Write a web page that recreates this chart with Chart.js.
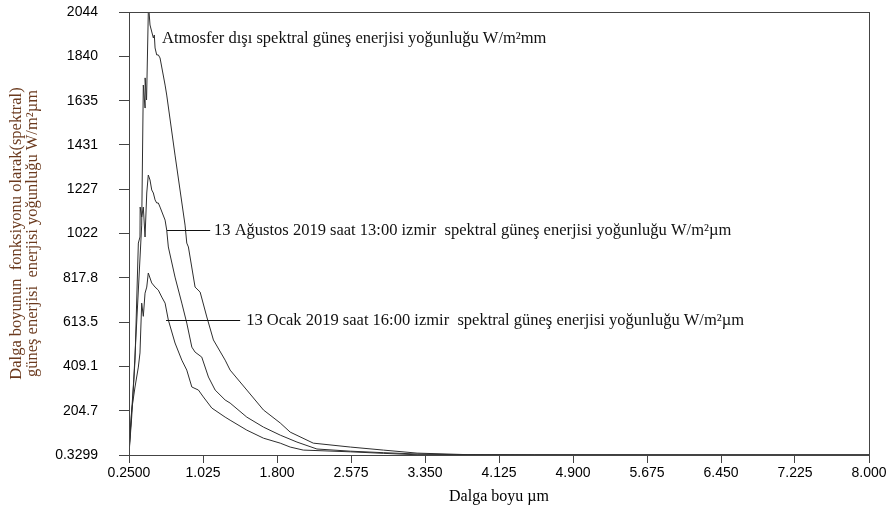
<!DOCTYPE html>
<html>
<head>
<meta charset="utf-8">
<script src="https://cdn.jsdelivr.net/npm/chart.js@4.4.1/dist/chart.umd.min.js"></script>
<style>
  html, body { margin: 0; padding: 0; background: #fff; }
  #wrap { width: 890px; height: 511px; }
</style>
</head>
<body>
<div id="wrap"><canvas id="spectrumChart"></canvas></div>
<script>
// Wavelength (µm) and spectral irradiance (W/m²µm) for each curve
const etrWave = [0.25, 0.30, 0.383, 0.40, 0.418, 0.419, 0.434, 0.452, 0.46, 0.47, 0.505, 0.515, 0.523, 0.54, 0.557, 0.575, 0.628, 0.645, 0.732, 0.837, 0.855, 0.872, 0.942, 0.995, 1.065, 1.134, 1.257, 1.309, 1.484, 1.658, 1.834, 1.938, 2.18, 2.568, 2.914, 3.267, 3.79, 4.5, 6.0, 8.0];
const etrValue = [10, 350, 1061, 1707, 1601, 1740, 1638, 2039, 2044, 1984, 1924, 1938, 1878, 1846, 1846, 1832, 1707, 1661, 1384, 1061, 978, 960, 775, 752, 637, 531, 438, 392, 300, 208, 148, 106, 55, 37, 23, 9, 2, 0.9, 0.5, 0.35];

const augWave = [0.25, 0.278, 0.313, 0.348, 0.365, 0.367, 0.383, 0.40, 0.418, 0.436, 0.452, 0.47, 0.488, 0.505, 0.523, 0.54, 0.557, 0.575, 0.628, 0.645, 0.662, 0.732, 0.803, 0.855, 0.908, 0.942, 1.012, 1.082, 1.152, 1.257, 1.309, 1.484, 1.658, 1.834, 2.009, 2.218, 2.568, 2.914, 3.267, 3.79, 4.5, 6.0, 8.0];
const augValue = [5, 175, 438, 978, 1006, 1144, 1098, 1144, 1006, 1209, 1292, 1269, 1223, 1209, 1177, 1163, 1163, 1144, 1084, 1038, 960, 821, 701, 609, 498, 475, 452, 360, 300, 254, 240, 175, 129, 92, 60, 28, 18, 11, 5, 1, 0.6, 0.4, 0.33];

const janWave = [0.25, 0.255, 0.278, 0.313, 0.348, 0.365, 0.383, 0.40, 0.418, 0.436, 0.452, 0.488, 0.523, 0.557, 0.593, 0.628, 0.662, 0.732, 0.803, 0.855, 0.908, 0.977, 1.029, 1.117, 1.257, 1.309, 1.484, 1.658, 1.834, 1.938, 2.075, 2.568, 2.914, 3.267, 4.0, 6.0, 8.0];
const janValue = [5, 55, 208, 314, 406, 471, 701, 640, 747, 775, 840, 794, 775, 761, 729, 701, 623, 517, 438, 392, 314, 300, 268, 217, 175, 161, 115, 78, 55, 37, 23, 15, 8, 1.4, 0.6, 0.4, 0.33];

// Axis ticks as printed
const xTickValues = [0.25, 1.025, 1.8, 2.575, 3.35, 4.125, 4.9, 5.675, 6.45, 7.225, 8.0];
const xTickLabels = ["0.2500", "1.025", "1.800", "2.575", "3.350", "4.125", "4.900", "5.675", "6.450", "7.225", "8.000"];
const yTickValues = [0.3299, 204.7, 409.1, 613.5, 817.8, 1022, 1227, 1431, 1635, 1840, 2044];
const yTickLabels = ["0.3299", "204.7", "409.1", "613.5", "817.8", "1022", "1227", "1431", "1635", "1840", "2044"];

const seriesNames = [
  "Atmosfer dışı spektral güneş enerjisi yoğunluğu W/m²mm",
  "13 Ağustos 2019 saat 13:00 izmir  spektral güneş enerjisi yoğunluğu W/m²µm",
  "13 Ocak 2019 saat 16:00 izmir  spektral güneş enerjisi yoğunluğu W/m²µm"
];

const toPoints = (xs, ys) => xs.map((x, i) => ({ x: x, y: ys[i] }));

function curve(label, xs, ys) {
  return {
    label: label,
    data: toPoints(xs, ys),
    showLine: true,
    borderColor: "#2e2e2e",
    borderWidth: 1,
    pointRadius: 0,
    tension: 0
  };
}

// frame around the plot plus the curve labels with their leader lines
const labelPlugin = {
  id: "curveLabels",
  afterDatasetsDraw(chart, args, opts) {
    const { ctx, chartArea, scales: { x, y } } = chart;
    ctx.save();
    ctx.strokeStyle = "#444";
    ctx.lineWidth = 1;
    ctx.strokeRect(chartArea.left + 0.5, chartArea.top + 0.5, chartArea.right - chartArea.left, chartArea.bottom - chartArea.top);

    ctx.font = "16.5px 'Liberation Serif', 'Times New Roman', serif";
    ctx.fillStyle = "#111";
    ctx.textBaseline = "middle";
    opts.items.forEach(item => {
      const yy = Math.round(y.getPixelForValue(item.y)) + 0.5;
      if (item.from !== undefined) {
        ctx.strokeStyle = "#111";
        ctx.beginPath();
        ctx.moveTo(x.getPixelForValue(item.from), yy);
        ctx.lineTo(x.getPixelForValue(item.to), yy);
        ctx.stroke();
      }
      ctx.fillText(item.text, x.getPixelForValue(item.textX), yy);
    });
    ctx.restore();
  }
};

const ctx = document.getElementById("spectrumChart").getContext("2d");
new Chart(ctx, {
  type: "scatter",
  data: {
    datasets: [
      curve(seriesNames[0], etrWave, etrValue),
      curve(seriesNames[1], augWave, augValue),
      curve(seriesNames[2], janWave, janValue)
    ]
  },
  options: {
    responsive: true,
    maintainAspectRatio: false,
    animation: false,
    layout: { padding: { top: 12, right: 21, left: 0, bottom: 0 } },
    plugins: {
      legend: { display: false },
      tooltip: { enabled: false },
      curveLabels: {
        items: [
          { text: seriesNames[0], textX: 0.596, y: 1924 },
          { text: seriesNames[1], textX: 1.141, y: 1038, from: 0.648, to: 1.10 },
          { text: seriesNames[2], textX: 1.477, y: 623, from: 0.638, to: 1.414 }
        ]
      }
    },
    scales: {
      x: {
        type: "linear",
        min: 0.25,
        max: 8.0,
        afterBuildTicks: axis => { axis.ticks = xTickValues.map(v => ({ value: v })); },
        afterFit: axis => { axis.height = 56; },
        ticks: {
          autoSkip: false,
          maxRotation: 0,
          padding: 2,
          color: "#000",
          font: { family: "'Liberation Sans', Arial, sans-serif", size: 14 },
          callback: (value, i) => xTickLabels[i]
        },
        grid: { drawOnChartArea: false, drawTicks: true, tickLength: 8, color: "#444" },
        border: { display: true, color: "#444" },
        title: {
          display: true,
          text: "Dalga boyu µm",
          color: "#000",
          font: { family: "'Liberation Serif', 'Times New Roman', serif", size: 16 },
          padding: { top: 0, bottom: 5 }
        }
      },
      y: {
        type: "linear",
        min: 0.3299,
        max: 2044,
        afterBuildTicks: axis => { axis.ticks = yTickValues.map(v => ({ value: v })); },
        afterFit: axis => {
          axis.width = 129;
          // the wide label gap should not push the plot top down
          axis.paddingTop = 8;
          axis.paddingBottom = 8;
        },
        ticks: {
          autoSkip: false,
          padding: 21,
          color: "#000",
          font: { family: "'Liberation Sans', Arial, sans-serif", size: 14 },
          callback: (value, i) => yTickLabels[i]
        },
        grid: { drawOnChartArea: false, drawTicks: true, tickLength: 10, color: "#444" },
        border: { display: true, color: "#444" },
        title: {
          display: true,
          text: ["Dalga boyunun  fonksiyonu olarak(spektral)", "güneş enerjisi  enerjisi yoğunluğu W/m²µm"],
          color: "#6b3a1e",
          font: { family: "'Liberation Serif', 'Times New Roman', serif", size: 16.5, lineHeight: 1 },
          padding: { top: 8, bottom: 0 }
        }
      }
    }
  },
  plugins: [labelPlugin]
});
</script>
</body>
</html>
